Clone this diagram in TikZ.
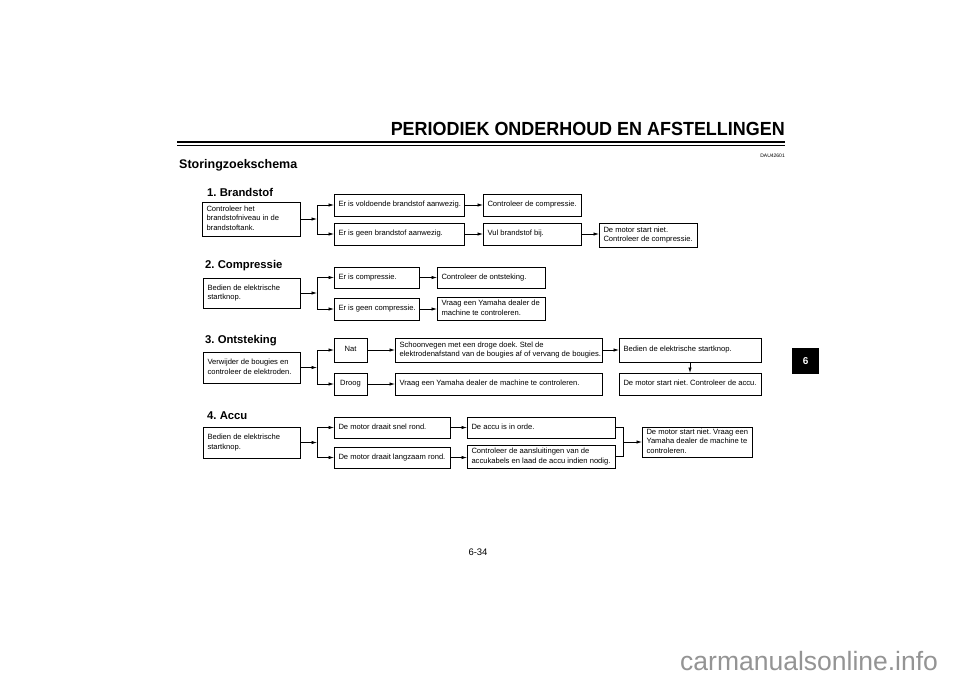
\documentclass[tikz,border=0pt]{standalone}
\usepackage{graphicx}
\usepackage{fontspec}
\setmainfont{Liberation Sans}
\usetikzlibrary{arrows.meta}
\newcommand\flowbox[7]{\pgfmathsetmacro\bxw{#4-#2-9}\pgfmathsetmacro\bxh{#5-#3}%
  \node[box, minimum height=\bxh pt] (#1) at (#2,#3)
    {\makebox[\bxw pt][#6]{\begin{tabular}{@{}#6@{}}#7\end{tabular}}};}
\begin{document}
\frenchspacing
\begin{tikzpicture}[x=1pt,y=-1pt,
  box/.style={draw, line width=0.7pt, inner xsep=4.5pt, inner ysep=0.5pt, outer sep=0pt,
    font=\fontsize{7.6}{9.5}\selectfont\frenchspacing, anchor=north west},
  arr/.style={line width=0.7pt, -{Latex[length=5.5pt,width=3.4pt]}},
  ln/.style={line width=0.7pt},
  sec/.style={font=\bfseries\fontsize{11.3}{13}\selectfont\frenchspacing, anchor=west, inner sep=0pt}]
\useasboundingbox (0,0) rectangle (960,678);
\fill[white] (0,0) rectangle (960,678);

% header
\node[anchor=base east, inner sep=0pt, font=\bfseries\fontsize{19}{19}\selectfont] (title) at (785,135)
  {\scalebox{0.945}[1]{PERIODIEK ONDERHOUD EN AFSTELLINGEN}};
\draw[line width=1.6pt] (177,142) -- (785,142);
\draw[line width=0.6pt] (177,145.5) -- (785,145.5);
\node[anchor=base east, inner sep=0pt, font=\fontsize{5}{5}\selectfont] (code) at (785,157) {DAU42601};
\node[anchor=base west, inner sep=0pt, font=\bfseries\fontsize{12.5}{13}\selectfont] (subt) at (179,168) {Storingzoekschema};

% 1. Brandstof
\node[sec] (h1) at (207,192) {1. Brandstof};
\flowbox{c1}{202}{202}{300}{236}{l}{Controleer het\\brandstofniveau in de\\brandstoftank.}
\flowbox{b1}{334}{194}{464}{216}{l}{Er is voldoende brandstof aanwezig.}
\flowbox{b2}{334}{223}{464}{245}{l}{Er is geen brandstof aanwezig.}
\flowbox{b3}{483}{194}{581}{216}{l}{Controleer de compressie.}
\flowbox{b4}{483}{223}{581}{245}{l}{Vul brandstof bij.}
\flowbox{b5}{599}{223}{697}{247}{l}{De motor start niet.\\Controleer de compressie.}
\coordinate (f1) at (317,0);
\draw[arr] (c1.east) -- (c1.east -| f1);
\draw[ln] (f1 |- b1.west) -- (f1 |- b2.west);
\draw[arr] (f1 |- b1.west) -- (b1.west);
\draw[arr] (f1 |- b2.west) -- (b2.west);
\draw[arr] (b1.east) -- (b1.east -| b3.west);
\draw[arr] (b2.east) -- (b2.east -| b4.west);
\draw[arr] (b4.east) -- (b4.east -| b5.west);

% 2. Compressie
\node[sec] (h2) at (205,266) {2. Compressie};
\flowbox{c2}{203}{278}{300}{308}{l}{Bedien de elektrische\\startknop.}
\flowbox{d1}{334}{267}{419}{288}{l}{Er is compressie.}
\flowbox{d2}{334}{298}{419}{320}{l}{Er is geen compressie.}
\flowbox{d3}{437}{267}{545}{288}{l}{Controleer de ontsteking.}
\flowbox{d4}{437}{297}{545}{320}{l}{Vraag een Yamaha dealer de\\machine te controleren.}
\coordinate (f2) at (317,0);
\draw[arr] (c2.east) -- (c2.east -| f2);
\draw[ln] (f2 |- d1.west) -- (f2 |- d2.west);
\draw[arr] (f2 |- d1.west) -- (d1.west);
\draw[arr] (f2 |- d2.west) -- (d2.west);
\draw[arr] (d1.east) -- (d1.east -| d3.west);
\draw[arr] (d2.east) -- (d2.east -| d4.west);

% 3. Ontsteking
\node[sec] (h3) at (205,341) {3. Ontsteking};
\flowbox{c3}{203}{352}{300}{383}{l}{Verwijder de bougies en\\controleer de elektroden.}
\flowbox{n1}{334}{338}{367}{362}{c}{Nat}
\flowbox{n2}{334}{373}{367}{395}{c}{Droog}
\flowbox{s1}{395}{338}{602}{362}{l}{Schoonvegen met een droge doek. Stel de\\elektrodenafstand van de bougies af of vervang de bougies.}
\flowbox{s2}{395}{373}{602}{395}{l}{Vraag een Yamaha dealer de machine te controleren.}
\flowbox{s3}{619}{338}{761}{362}{l}{Bedien de elektrische startknop.}
\flowbox{s4}{619}{373}{761}{395}{l}{De motor start niet. Controleer de accu.}
\coordinate (f3) at (317,0);
\draw[arr] (c3.east) -- (c3.east -| f3);
\draw[ln] (f3 |- n1.west) -- (f3 |- n2.west);
\draw[arr] (f3 |- n1.west) -- (n1.west);
\draw[arr] (f3 |- n2.west) -- (n2.west);
\draw[arr] (n1.east) -- (n1.east -| s1.west);
\draw[arr] (n2.east) -- (n2.east -| s2.west);
\draw[arr] (s1.east) -- (s1.east -| s3.west);
\draw[arr] (s3.south) -- (s4.north);

% 4. Accu
\node[sec] (h4) at (207,416) {4. Accu};
\flowbox{c4}{203}{427}{300}{458}{l}{Bedien de elektrische\\startknop.}
\flowbox{a1}{334}{417}{450}{438}{l}{De motor draait snel rond.}
\flowbox{a2}{334}{447}{450}{468}{l}{De motor draait langzaam rond.}
\flowbox{a3}{467}{417}{615}{438}{l}{De accu is in orde.}
\flowbox{a4}{467}{445}{615}{468}{l}{Controleer de aansluitingen van de\\accukabels en laad de accu indien nodig.}
\flowbox{a5}{642}{427}{752}{457}{l}{De motor start niet. Vraag een\\Yamaha dealer de machine te\\controleren.}
\coordinate (f4) at (317,0);
\coordinate (m4) at (623,0);
\draw[arr] (c4.east) -- (c4.east -| f4);
\draw[ln] (f4 |- a1.west) -- (f4 |- a2.west);
\draw[arr] (f4 |- a1.west) -- (a1.west);
\draw[arr] (f4 |- a2.west) -- (a2.west);
\draw[arr] (a1.east) -- (a1.east -| a3.west);
\draw[arr] (a2.east) -- (a2.east -| a4.west);
\draw[ln] (a3.east) -- (a3.east -| m4) -- (a4.east -| m4) -- (a4.east);
\draw[arr] (m4 |- a5.west) -- (a5.west);

% tab, page number, watermark
\node[fill=black, minimum width=27pt, minimum height=26pt, inner sep=0pt, anchor=north west,
  text=white, font=\bfseries\fontsize{10}{10}\selectfont] (tab) at (792,348) {6};
\node[inner sep=0pt, font=\fontsize{9.5}{10}\selectfont] (pg) at (478,552) {6-34};
\node[anchor=west, inner sep=0pt, text=black!42, font=\fontsize{26.5}{26.5}\selectfont] (wm) at (680,661) {carmanualsonline.info};
\end{tikzpicture}
\end{document}
